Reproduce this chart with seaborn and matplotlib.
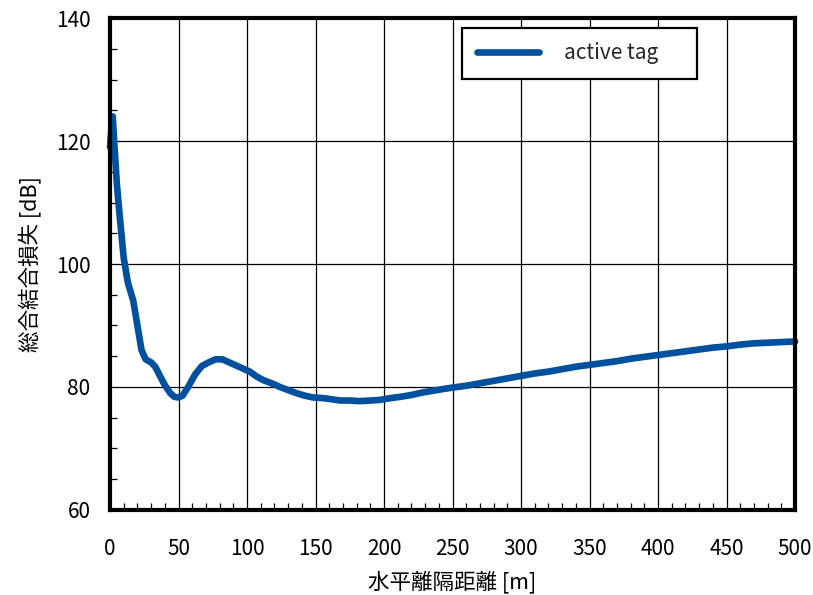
import matplotlib
matplotlib.use("Agg")
import matplotlib.pyplot as plt
import seaborn as sns
import pandas as pd
from matplotlib.ticker import MultipleLocator

distance_m = [0, 1, 2, 3, 5, 7, 10, 13, 17, 20, 23, 26, 30, 33, 36, 40, 44, 47, 50, 53,
              57, 62, 67, 72, 77, 82, 87, 92, 97, 102, 107, 112, 118, 124, 130, 136, 142,
              148, 155, 162, 168, 175, 182, 190, 197, 205, 212, 220, 228, 236, 244, 250,
              260, 270, 280, 290, 300, 310, 320, 330, 340, 350, 360, 370, 380, 390, 400,
              410, 420, 430, 440, 450, 460, 470, 480, 490, 500]
loss_db = [119.0, 122.0, 124.0, 120.0, 113.0, 108.0, 101.0, 97.0, 94.0, 90.0, 86.0, 84.5,
           84.0, 83.3, 82.0, 80.3, 79.0, 78.4, 78.3, 78.6, 80.0, 82.0, 83.4, 84.0, 84.5,
           84.5, 84.0, 83.5, 83.0, 82.5, 81.7, 81.1, 80.6, 80.0, 79.5, 79.0, 78.6, 78.3,
           78.2, 78.0, 77.8, 77.8, 77.7, 77.8, 77.9, 78.2, 78.4, 78.7, 79.1, 79.4, 79.7,
           79.9, 80.2, 80.6, 81.0, 81.4, 81.8, 82.2, 82.5, 82.9, 83.3, 83.6, 83.9, 84.2,
           84.6, 84.9, 85.2, 85.5, 85.8, 86.1, 86.4, 86.6, 86.9, 87.1, 87.2, 87.3, 87.4]
series_name = "active tag"
x_label = "水平離隔距離 [m]"
y_label = "総合結合損失 [dB]"

sns.set_theme(style="white")
plt.rcParams['font.family'] = ['Noto Sans CJK JP', 'DejaVu Sans']

df = pd.DataFrame({"x": distance_m, "y": loss_db, "series": series_name})

fig = plt.figure(figsize=(8.13, 5.95), dpi=100)
ax = fig.add_axes([0.1353, 0.1429, 0.978 - 0.1353, 0.9697 - 0.1429])

sns.lineplot(data=df, x="x", y="y", hue="series", palette=["#0050A0"], linewidth=4.8,
             ax=ax, sort=False, solid_capstyle="round", solid_joinstyle="round",
             clip_on=False, zorder=5)

ax.set_xlim(0, 500)
ax.set_ylim(60, 140)
ax.xaxis.set_major_locator(MultipleLocator(50))
ax.xaxis.set_minor_locator(MultipleLocator(10))
ax.yaxis.set_major_locator(MultipleLocator(20))
ax.yaxis.set_minor_locator(MultipleLocator(5))
ax.grid(True, which="major", color="black", linewidth=0.9)
ax.tick_params(which="both", direction="in", bottom=True, left=True, top=False, right=False,
               color="black")
ax.tick_params(which="minor", length=5, width=0.9)
ax.tick_params(which="major", length=0)
ax.tick_params(axis="x", which="major", pad=20, labelsize=15, labelcolor="black")
ax.tick_params(axis="y", which="major", pad=14, labelsize=15, labelcolor="black")

for s in ax.spines.values():
    s.set_visible(True)
    s.set_color("black")
    s.set_linewidth(3)
    s.set_zorder(6)

ax.set_xlabel(x_label, fontsize=15.5, color="black", labelpad=8)
ax.set_ylabel(y_label, fontsize=15.5, color="black", labelpad=10)

leg = ax.legend(loc="upper left", bbox_to_anchor=(0.514, 0.98, 0.343, 0), mode="expand",
                borderaxespad=0, fontsize=15, frameon=True, fancybox=False,
                handlelength=3.0, handletextpad=1.2, borderpad=0.7)
leg.get_frame().set_edgecolor("black")
leg.get_frame().set_linewidth(1.6)
leg.get_frame().set_alpha(1)
leg.set_zorder(10)
for ln in leg.get_lines():
    ln.set_solid_capstyle("round")

fig.savefig("out.png", dpi=100)
